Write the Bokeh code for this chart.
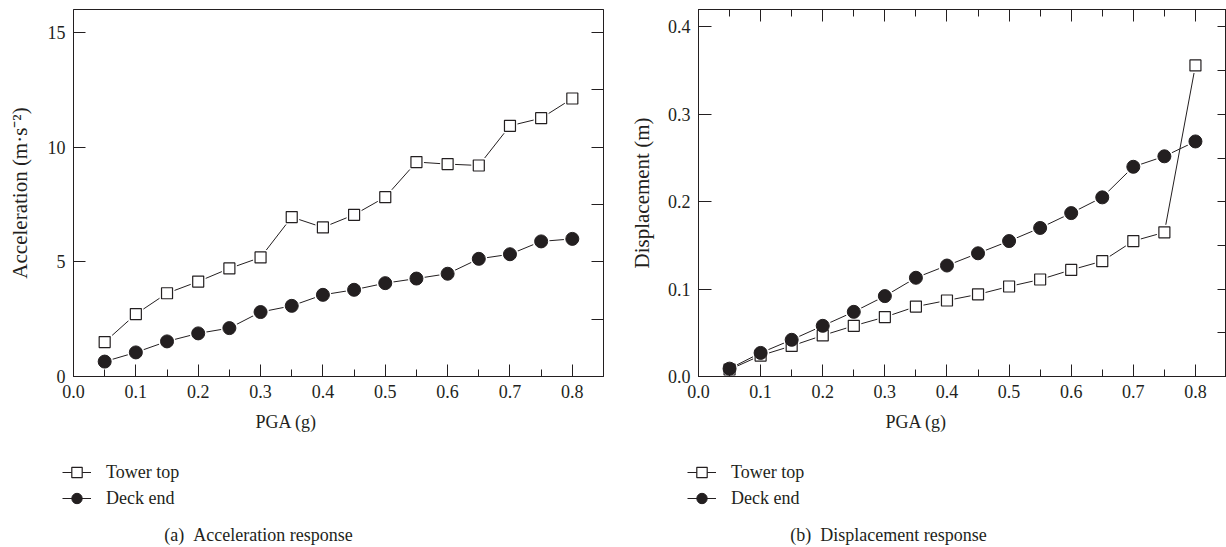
from bokeh.plotting import figure
from bokeh.models import (Range1d, LinearAxis, FixedTicker, Legend, LegendItem, Title,
                          Label, CustomLabelingPolicy)
from bokeh.layouts import row, column
from bokeh.embed import file_html
from bokeh.resources import INLINE

# Peak ground acceleration levels (g)
pga = [0.05, 0.10, 0.15, 0.20, 0.25, 0.30, 0.35, 0.40,
       0.45, 0.50, 0.55, 0.60, 0.65, 0.70, 0.75, 0.80]

# (a) Acceleration response (m/s^2)
acc_tower_top = [1.50, 2.72, 3.63, 4.14, 4.71, 5.19, 6.95, 6.50,
                 7.05, 7.82, 9.35, 9.26, 9.20, 10.93, 11.26, 12.12]
acc_deck_end = [0.65, 1.05, 1.53, 1.88, 2.11, 2.81, 3.08, 3.56,
                3.78, 4.07, 4.27, 4.48, 5.13, 5.33, 5.89, 6.00]

# (b) Displacement response (m)
disp_tower_top = [0.008, 0.024, 0.035, 0.047, 0.058, 0.068, 0.080, 0.087,
                  0.094, 0.103, 0.111, 0.122, 0.132, 0.155, 0.165, 0.356]
disp_deck_end = [0.009, 0.027, 0.042, 0.058, 0.074, 0.092, 0.113, 0.127,
                 0.141, 0.155, 0.170, 0.187, 0.205, 0.240, 0.252, 0.269]

series_names = ["Tower top", "Deck end"]
captions = ["(a)\u2002Acceleration response", "(b)\u2002Displacement response"]

x_ticks = [0.0, 0.1, 0.2, 0.3, 0.4, 0.5, 0.6, 0.7, 0.8]
x_tick_labels = ["0.0", "0.1", "0.2", "0.3", "0.4", "0.5", "0.6", "0.7", "0.8"]
x_minor = [0.05, 0.15, 0.25, 0.35, 0.45, 0.55, 0.65, 0.75]

acc_ticks = [0, 5, 10, 15]
acc_tick_labels = ["0", "5", "10", "15"]
acc_right_ticks = [2.5, 5, 7.5, 10, 12.5, 15]

disp_ticks = [0.0, 0.1, 0.2, 0.3, 0.4]
disp_tick_labels = ["0.0", "0.1", "0.2", "0.3", "0.4"]
disp_right_ticks = [0.05, 0.10, 0.15, 0.20, 0.25, 0.30, 0.35, 0.40]

INK = "#231f20"
FONT = "Liberation Serif"
TICK_SIZE = "18px"
YLABEL_SIZE = "21px"
TEXT_SIZE = "18px"

PLOT_H = 450           # chart row
KEY_H = 547 - PLOT_H   # legend + caption strip under it

# drop every tick label (used on the mirror axes)
NO_LABELS = "for (const i of indices) indices.unset(i)\nreturn indices"


def style_axis(ax, ticks, labels=None, minor=None, tick_in=12, minor_in=7):
    ax.ticker = FixedTicker(ticks=ticks, minor_ticks=minor or [])
    ax.axis_line_color = INK
    ax.axis_line_width = 1
    ax.major_tick_line_color = INK
    ax.major_tick_in = tick_in
    ax.major_tick_out = 0
    ax.minor_tick_line_color = INK if minor else None
    ax.minor_tick_in = minor_in
    ax.minor_tick_out = 0
    if labels is None:
        ax.major_label_policy = CustomLabelingPolicy(code=NO_LABELS)
        ax.major_label_text_font_size = "0px"
        ax.major_label_standoff = 0
    else:
        ax.major_label_overrides = {t: s for t, s in zip(ticks, labels)}
        ax.major_label_text_font = FONT
        ax.major_label_text_font_size = TICK_SIZE
        ax.major_label_text_color = INK
        ax.major_label_standoff = 8


def draw_series(p, tower, deck, **kw):
    """Tower top as open squares, deck end as filled circles, each joined by a line."""
    l1 = p.line(pga, tower, line_color=INK, line_width=1, **kw)
    s1 = p.scatter(pga, tower, marker="square", size=11, fill_color="white",
                   line_color=INK, line_width=1.2, **kw)
    l2 = p.line(pga, deck, line_color=INK, line_width=1, **kw)
    s2 = p.scatter(pga, deck, marker="circle", size=13, fill_color=INK,
                   line_color=INK, **kw)
    return [l1, s1], [l2, s2]


def chart(width, border_left, border_right, border_top, y_top, tower, deck,
          y_ticks, y_labels, right_ticks, right_len, left_len, y_title, ylabel_standoff,
          with_top, pga_offset):
    p = figure(width=width, height=PLOT_H, output_backend="svg", toolbar_location=None,
               x_range=Range1d(0, 0.85), y_range=Range1d(0, y_top),
               min_border_left=border_left, min_border_right=border_right,
               min_border_top=border_top, min_border_bottom=PLOT_H - border_top - 368)
    p.grid.visible = False
    p.outline_line_color = INK
    p.outline_line_width = 1
    p.background_fill_color = "white"
    p.border_fill_color = "white"

    style_axis(p.xaxis[0], x_ticks, x_tick_labels, x_minor)
    style_axis(p.yaxis[0], y_ticks, y_labels, tick_in=left_len)
    p.yaxis[0].axis_label = y_title
    p.yaxis[0].axis_label_text_font = FONT
    p.yaxis[0].axis_label_text_font_size = YLABEL_SIZE
    p.yaxis[0].axis_label_text_font_style = "normal"
    p.yaxis[0].axis_label_text_color = INK
    p.yaxis[0].axis_label_standoff = ylabel_standoff

    right = LinearAxis()
    style_axis(right, right_ticks, tick_in=right_len)
    p.add_layout(right, "right")
    if with_top:
        top = LinearAxis()
        style_axis(top, x_ticks, minor=x_minor)
        p.add_layout(top, "above")

    # joining lines, then white halos so they stop short of the markers
    p.line(pga, tower, line_color=INK, line_width=1)
    p.line(pga, deck, line_color=INK, line_width=1)
    p.scatter(pga, tower, marker="square", size=15, fill_color="white", line_color=None)
    p.scatter(pga, deck, marker="circle", size=17, fill_color="white", line_color=None)
    p.scatter(pga, tower, marker="square", size=11, fill_color="white",
              line_color=INK, line_width=1.2)
    p.scatter(pga, deck, marker="circle", size=13, fill_color=INK, line_color=INK)

    p.add_layout(Title(text="PGA (g)", align="left", offset=pga_offset, standoff=19,
                       text_font=FONT, text_font_size=TEXT_SIZE,
                       text_font_style="normal", text_color=INK), "below")
    return p


left = chart(620, 73, 17, 9, 16, acc_tower_top, acc_deck_end,
             acc_ticks, acc_tick_labels, acc_right_ticks, 12, 12,
             "Acceleration (m·s⁻²)", 13, False, 182)
right = chart(606, 78, 0, 8, 0.42, disp_tower_top, disp_deck_end,
              disp_ticks, disp_tick_labels, disp_right_ticks, 9, 13,
              "Displacement (m)", 11, True, 187)

# strip under both charts: series keys and panel captions
strip = figure(width=1226, height=KEY_H, output_backend="svg", toolbar_location=None,
               x_range=Range1d(0, 1), y_range=Range1d(0, 1),
               x_axis_location=None, y_axis_location=None,
               min_border=0, outline_line_color=None)
strip.grid.visible = False


def add_key(tower, deck, legend_x):
    # hidden copies of the series, only used to draw the legend keys
    r_tower, r_deck = draw_series(strip, tower, deck, visible=False)
    legend = Legend(items=[LegendItem(label=series_names[0], renderers=r_tower),
                           LegendItem(label=series_names[1], renderers=r_deck)],
                    location=(legend_x, 36), orientation="vertical",
                    glyph_width=29, glyph_height=26, label_standoff=15,
                    padding=0, spacing=0, margin=0,
                    border_line_color=None, background_fill_alpha=0,
                    inactive_fill_alpha=0,
                    label_text_font=FONT, label_text_font_size=TEXT_SIZE,
                    label_text_color=INK, label_height=26)
    strip.add_layout(legend)


add_key(acc_tower_top, acc_deck_end, 62)
add_key(disp_tower_top, disp_deck_end, 687)

for text, cx in zip(captions, [258, 888]):
    strip.add_layout(Label(x=cx, y=13, x_units="screen", y_units="screen",
                           text=text, text_align="center", text_baseline="middle",
                           text_font=FONT, text_font_size=TEXT_SIZE, text_color=INK))

layout = column(row(left, right), strip)
open("out.html", "w").write(file_html(layout, INLINE))
